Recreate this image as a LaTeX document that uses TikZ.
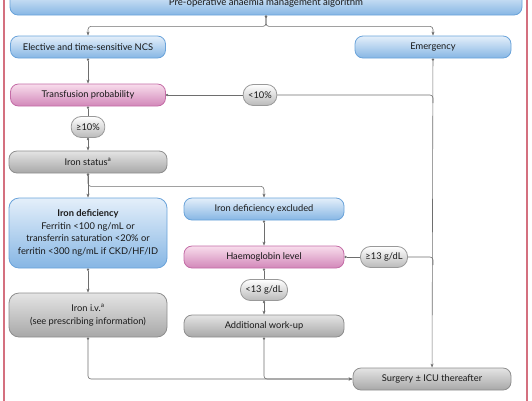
\documentclass[tikz,border=0pt]{standalone}
\usepackage{fontspec}
\setmainfont{Lato}
\usepackage{tikz}
\usepackage{xcolor}
\usetikzlibrary{shapes.geometric, arrows.meta, positioning}

\definecolor{blueTop}{HTML}{E4EFFA}
\definecolor{blueBot}{HTML}{86B6E4}
\definecolor{blueLine}{HTML}{6AA3DA}
\definecolor{pinkTop}{HTML}{F8DDEC}
\definecolor{pinkBot}{HTML}{D287B9}
\definecolor{pinkLine}{HTML}{C46CA6}
\definecolor{greyTop}{HTML}{E4E4E4}
\definecolor{greyBot}{HTML}{A8A8A8}
\definecolor{greyLine}{HTML}{8E8E8E}
\definecolor{lineGrey}{HTML}{6E6E6E}
\definecolor{frameRed}{HTML}{D4707F}

\tikzstyle{base}    = [rectangle, rounded corners=8pt, minimum height=22pt, text centered, line width=0.8pt, text=black!90, font=\fontsize{9.3}{11}\selectfont]
\tikzstyle{bluebox} = [base, top color=blueTop, bottom color=blueBot, draw=blueLine]
\tikzstyle{pinkbox} = [base, top color=pinkTop, bottom color=pinkBot, draw=pinkLine]
\tikzstyle{greybox} = [base, top color=greyTop, bottom color=greyBot, draw=greyLine]
\tikzstyle{pill}    = [rectangle, rounded corners=10pt, minimum height=21pt, inner xsep=5pt, line width=0.8pt, top color=white, bottom color=greyBot!80, draw=greyLine!90, text=black!90, font=\fontsize{9.3}{11}\selectfont]
\tikzstyle{arrow}   = [line width=0.6pt, draw=lineGrey, rounded corners=3pt, {Circle[length=2.4pt]}-{Stealth[length=4pt, width=3pt]}]
\tikzstyle{link}    = [line width=0.6pt, draw=lineGrey, {Circle[length=2.4pt]}-]
\tikzstyle{joint}   = [line width=0.6pt, draw=lineGrey, rounded corners=3pt]

\begin{document}
\begin{tikzpicture}[node distance=48pt]

\useasboundingbox (0,0) rectangle (532pt,-400pt);
\draw [line width=1.4pt, draw=frameRed] (4pt,20pt) rectangle (527pt,-420pt);

\node (title)     [bluebox, minimum width=512pt, minimum height=24pt, font=\fontsize{9.6}{11}\selectfont] at (266pt,-3pt) {Pre-operative anaemia management algorithm};
\node (elective)  [bluebox, minimum width=155pt] at (88pt,-47pt) {Elective and time-sensitive NCS};
\node (emergency) [bluebox, minimum width=156pt, right of=elective, xshift=297pt] {Emergency};
\node (transf)    [pinkbox, minimum width=155pt, below of=elective] {Transfusion probability};
\node (lt10)      [pill, right of=transf, xshift=124pt] {<10\%};
\node (ge10)      [pill, below of=transf, yshift=16pt] {≥10\%};
\node (ironstat)  [greybox, minimum width=158pt, below of=ge10, yshift=13pt] {Iron status\textsuperscript{a}};
\node (irondef)   [bluebox, minimum width=158pt, minimum height=70pt, rounded corners=10pt, align=center, font=\fontsize{9.3}{12.6}\selectfont, below of=ironstat, yshift=-23pt]
                  {\textbf{Iron deficiency}\\Ferritin <100 ng/mL or\\transferrin saturation <20\% or\\ferritin <300 ng/mL if CKD/HF/ID};
\node (ironiv)    [greybox, minimum width=158pt, minimum height=44pt, rounded corners=10pt, align=center, font=\fontsize{9.3}{12.6}\selectfont, below of=irondef, yshift=-34pt]
                  {Iron i.v.\textsuperscript{a}\\(see prescribing information)};
\node (idexcl)    [bluebox, minimum width=160pt, right of=irondef, xshift=128pt, yshift=24pt] {Iron deficiency excluded};
\node (hb)        [pinkbox, minimum width=160pt, below of=idexcl] {Haemoglobin level};
\node (lt13)      [pill, below of=hb, yshift=15pt] {<13 g/dL};
\node (addwork)   [greybox, minimum width=160pt, below of=lt13, yshift=12pt] {Additional work-up};
\node (ge13)      [pill, right of=hb, xshift=72pt] {≥13 g/dL};
\node (surgery)   [greybox, minimum width=158pt, below of=addwork, xshift=168pt, yshift=-5pt] {Surgery ± ICU thereafter};

\draw [arrow] (title.south) -- ++(0,-11pt) -| (elective.north);
\draw [arrow] (title.south) -- ++(0,-11pt) -| (emergency.north);
\draw [arrow] (elective)  -- (transf);
\draw [arrow] (emergency) -- (surgery);
\draw [link]  (transf)    -- (lt10);
\draw [joint] (lt10.east) -| ([yshift=-8pt]emergency.south |- lt10);
\draw [link]  (transf)    -- (ge10);
\draw [arrow] (ge10)      -- (ironstat);
\draw [arrow] (ironstat)  -- (irondef);
\draw [arrow] (ironstat.south) -- ++(0,-13pt) -| (idexcl.north);
\draw [arrow] (irondef)   -- (ironiv);
\draw [arrow] (idexcl)    -- (hb);
\draw [link]  (hb)        -- (lt13);
\draw [arrow] (lt13)      -- (addwork);
\draw [link]  (hb)        -- (ge13);
\draw [joint] (ge13.east) -| ([yshift=-8pt]emergency.south |- ge13);
\draw [arrow] (ironiv.south)  |- (surgery.west);
\draw [arrow] (addwork.south) |- (surgery.west);

\end{tikzpicture}
\end{document}
